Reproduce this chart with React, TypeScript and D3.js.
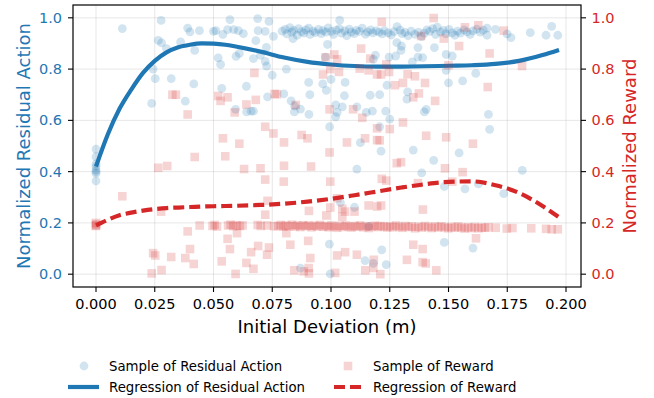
import React from 'react';
import * as d3 from 'd3';

const BLUE = '#1f77b4';
const RED = '#d62728';

const xTicks = [0, 0.025, 0.05, 0.075, 0.1, 0.125, 0.15, 0.175, 0.2];
const yTicks = [0, 0.2, 0.4, 0.6, 0.8, 1.0];

// regression curves
const fitX = [0, 0.005, 0.01, 0.015, 0.02, 0.025, 0.03, 0.035, 0.04, 0.045, 0.05, 0.055, 0.06, 0.07, 0.08, 0.09, 0.1, 0.11, 0.12, 0.13, 0.14, 0.15, 0.16, 0.17, 0.18, 0.19, 0.197];
const actionFit = [0.42, 0.545, 0.645, 0.72, 0.785, 0.832, 0.865, 0.885, 0.895, 0.9, 0.899, 0.895, 0.887, 0.868, 0.845, 0.828, 0.818, 0.812, 0.81, 0.81, 0.811, 0.813, 0.815, 0.82, 0.832, 0.855, 0.875];
const rewardFit = [0.19, 0.212, 0.23, 0.24, 0.248, 0.254, 0.258, 0.26, 0.262, 0.264, 0.265, 0.266, 0.267, 0.27, 0.275, 0.283, 0.294, 0.308, 0.323, 0.338, 0.351, 0.36, 0.362, 0.347, 0.317, 0.266, 0.222];

const actionSamples: [number, number][] = [
  [0, 0.488], [0, 0.458], [0, 0.43], [0, 0.42], [0, 0.407], [0, 0.4], [0, 0.394], [0, 0.364],
  [0.0112, 0.958], [0.0277, 0.99], [0.0265, 0.912], [0.0279, 0.902], [0.03, 0.88], [0.0243, 0.8],
  [0.0252, 0.763], [0.032, 0.763], [0.0237, 0.666],
  [0.039, 0.96], [0.04, 0.945], [0.044, 0.95], [0.057, 0.993], [0.0688, 0.997], [0.0736, 0.986],
  [0.05, 0.947], [0.051, 0.95], [0.054, 0.935], [0.056, 0.954], [0.0586, 0.954], [0.0606, 0.95],
  [0.0627, 0.938], [0.069, 0.95], [0.072, 0.947], [0.0755, 0.928], [0.036, 0.906], [0.042, 0.873],
  [0.068, 0.911], [0.0725, 0.885], [0.052, 0.844], [0.053, 0.818], [0.0596, 0.85], [0.061, 0.861],
  [0.067, 0.841], [0.07, 0.854], [0.072, 0.83], [0.0726, 0.812], [0.075, 0.776], [0.0416, 0.742],
  [0.0535, 0.725], [0.064, 0.733], [0.073, 0.692], [0.038, 0.675], [0.0594, 0.643], [0.0641, 0.633],
  [0.066, 0.636], [0.067, 0.636],
  [0.0792, 0.948], [0.0805, 0.955], [0.0812, 0.937], [0.0825, 0.962], [0.0833, 0.944], [0.0841, 0.951],
  [0.0856, 0.932], [0.0862, 0.958], [0.0875, 0.946], [0.0884, 0.94], [0.0893, 0.953], [0.0905, 0.96],
  [0.0911, 0.935], [0.0924, 0.948], [0.0933, 0.942], [0.0947, 0.955], [0.0958, 0.938], [0.0966, 0.95],
  [0.0979, 0.944], [0.0988, 0.961], [0.1002, 0.947], [0.1011, 0.935], [0.1023, 0.952], [0.1036, 0.958],
  [0.1045, 0.94], [0.1059, 0.949], [0.1067, 0.93], [0.1078, 0.956], [0.1086, 0.944], [0.1099, 0.938],
  [0.1108, 0.951], [0.1121, 0.947], [0.1133, 0.96], [0.1147, 0.936], [0.1156, 0.945], [0.1169, 0.953],
  [0.1178, 0.941], [0.1192, 0.949], [0.1037, 0.991], [0.0838, 0.919], [0.0985, 0.896],
  [0.0976, 0.847], [0.081, 0.8], [0.1189, 0.854], [0.118, 0.838], [0.0905, 0.748], [0.0965, 0.742],
  [0.1, 0.76], [0.106, 0.748], [0.098, 0.717], [0.0799, 0.703], [0.091, 0.7], [0.1057, 0.696],
  [0.1167, 0.698], [0.083, 0.676], [0.0845, 0.656], [0.0844, 0.633], [0.087, 0.644], [0.0906, 0.623],
  [0.102, 0.66], [0.1026, 0.631], [0.1048, 0.653], [0.102, 0.614], [0.111, 0.653], [0.115, 0.631],
  [0.1176, 0.636], [0.0994, 0.575], [0.1125, 0.513], [0.111, 0.41], [0.104, 0.279], [0.11, 0.261],
  [0.116, 0.186], [0.0993, 0.117], [0.1145, 0.053], [0.118, 0.042], [0.087, 0.024], [0.0997, 0.001],
  [0.1205, 0.944], [0.1218, 0.937], [0.1227, 0.95], [0.1243, 0.941], [0.1256, 0.933], [0.1268, 0.946],
  [0.1281, 0.966], [0.1294, 0.952], [0.1302, 0.938], [0.1315, 0.943], [0.1328, 0.93], [0.1341, 0.948],
  [0.1357, 0.936], [0.1372, 0.944], [0.1385, 0.927], [0.1397, 0.94], [0.1408, 0.953], [0.142, 0.947],
  [0.1433, 0.958], [0.1445, 0.935], [0.1452, 0.964], [0.1466, 0.944], [0.1478, 0.951], [0.1489, 0.937],
  [0.1502, 0.955], [0.1515, 0.941], [0.1527, 0.932], [0.1538, 0.948], [0.155, 0.94], [0.1566, 0.953],
  [0.1579, 0.945], [0.1592, 0.935], [0.1604, 0.949], [0.162, 0.956], [0.1635, 0.944], [0.1648, 0.952],
  [0.128, 0.903], [0.13, 0.89], [0.1298, 0.873], [0.137, 0.884], [0.144, 0.884], [0.149, 0.857],
  [0.1516, 0.851], [0.1247, 0.847], [0.1275, 0.851], [0.1346, 0.828], [0.137, 0.847], [0.139, 0.845],
  [0.149, 0.795], [0.1616, 0.783], [0.1238, 0.737], [0.15, 0.746], [0.156, 0.754], [0.1326, 0.711],
  [0.1323, 0.683], [0.1207, 0.7], [0.1397, 0.633], [0.1405, 0.643], [0.1233, 0.636], [0.125, 0.605],
  [0.1207, 0.575], [0.1213, 0.48], [0.135, 0.484], [0.1545, 0.473], [0.1437, 0.444], [0.1386, 0.395],
  [0.1482, 0.342], [0.157, 0.333], [0.1627, 0.352], [0.1216, 0.095], [0.1235, 0.037], [0.1482, 0.124],
  [0.1604, 0.102],
  [0.1664, 0.96], [0.1664, 0.932], [0.17, 0.955], [0.1749, 0.937], [0.1766, 0.923], [0.1848, 0.942],
  [0.1915, 0.932], [0.1939, 0.967], [0.1965, 0.932], [0.167, 0.623], [0.1675, 0.565], [0.1814, 0.405],
  [0.1735, 0.314],
];

const rewardSamples: [number, number][] = [
  [0, 0.19], [0, 0.195], [0, 0.2], [0, 0.188],
  [0.0325, 0.7], [0.0265, 0.415], [0.0303, 0.422], [0.0112, 0.304], [0.0277, 0.244], [0.0243, 0.082],
  [0.0252, 0.073], [0.032, 0.067], [0.0279, 0.016], [0.0237, 0.003],
  [0.0674, 0.785], [0.034, 0.7], [0.052, 0.695], [0.053, 0.676], [0.056, 0.69], [0.059, 0.631],
  [0.064, 0.662], [0.068, 0.68], [0.076, 0.703], [0.039, 0.623], [0.072, 0.575], [0.0755, 0.549],
  [0.054, 0.53], [0.061, 0.509], [0.042, 0.457], [0.055, 0.46], [0.063, 0.41], [0.07, 0.413],
  [0.072, 0.369], [0.073, 0.286], [0.072, 0.232],
  [0.0441, 0.19], [0.0496, 0.188], [0.0505, 0.192], [0.0515, 0.186], [0.0562, 0.19], [0.0573, 0.193],
  [0.0584, 0.187], [0.0598, 0.191], [0.0612, 0.188], [0.0624, 0.19], [0.0688, 0.192], [0.0701, 0.188],
  [0.0728, 0.19], [0.0758, 0.187],
  [0.039, 0.167], [0.06, 0.16], [0.056, 0.138], [0.057, 0.098], [0.04, 0.098], [0.038, 0.063],
  [0.0416, 0.04], [0.0535, 0.05], [0.066, 0.086], [0.069, 0.11], [0.064, 0.044], [0.067, 0.021],
  [0.0594, 0.001], [0.0736, 0.104], [0.0728, 0.076],
  [0.1014, 0.857], [0.1026, 0.838], [0.0977, 0.846], [0.0966, 0.779], [0.0997, 0.8], [0.1034, 0.789],
  [0.1128, 0.88], [0.1167, 0.841], [0.1122, 0.802], [0.116, 0.795], [0.1196, 0.779], [0.077, 0.702],
  [0.085, 0.66], [0.0994, 0.643], [0.1094, 0.643], [0.1133, 0.61], [0.1196, 0.569], [0.0875, 0.543],
  [0.09, 0.53], [0.08, 0.514], [0.1068, 0.514], [0.1145, 0.53], [0.1196, 0.523], [0.0994, 0.475],
  [0.08, 0.423], [0.0915, 0.42], [0.0799, 0.361], [0.0997, 0.361], [0.1026, 0.296], [0.1048, 0.255],
  [0.106, 0.244], [0.0997, 0.26], [0.0906, 0.247], [0.098, 0.229], [0.1048, 0.224], [0.11, 0.244],
  [0.116, 0.268], [0.1196, 0.264],
  [0.0775, 0.188], [0.0786, 0.192], [0.0797, 0.185], [0.0809, 0.19], [0.0821, 0.187], [0.0834, 0.193],
  [0.0846, 0.186], [0.0857, 0.19], [0.0869, 0.184], [0.0881, 0.191], [0.0893, 0.187], [0.0905, 0.19],
  [0.0917, 0.183], [0.0929, 0.189], [0.0941, 0.186], [0.0953, 0.192], [0.0966, 0.185], [0.0978, 0.188],
  [0.099, 0.183], [0.1002, 0.19], [0.1014, 0.186], [0.1026, 0.181], [0.1038, 0.189], [0.1051, 0.184],
  [0.1063, 0.19], [0.1075, 0.186], [0.1087, 0.182], [0.11, 0.188], [0.1112, 0.185], [0.1124, 0.19],
  [0.1137, 0.183], [0.1149, 0.187], [0.1161, 0.18], [0.1174, 0.186], [0.1186, 0.189],
  [0.081, 0.16], [0.0827, 0.115], [0.0903, 0.13], [0.1026, 0.073], [0.106, 0.086], [0.111, 0.076],
  [0.0912, 0.063], [0.1182, 0.056], [0.0844, 0.015], [0.0884, 0.011], [0.0905, 0.024], [0.0906, 0.003],
  [0.1018, 0.005], [0.1146, 0.015], [0.118, 0.024],
  [0.1437, 0.999], [0.1216, 0.984], [0.1383, 0.929], [0.148, 0.919], [0.1545, 0.89], [0.157, 0.963],
  [0.1627, 0.971], [0.1235, 0.818], [0.1247, 0.789], [0.1213, 0.779], [0.15, 0.815], [0.1326, 0.78],
  [0.1357, 0.772], [0.1272, 0.737], [0.1306, 0.746], [0.14, 0.746], [0.1374, 0.705], [0.135, 0.69],
  [0.1443, 0.676], [0.125, 0.566], [0.1306, 0.592], [0.1405, 0.54], [0.149, 0.534], [0.1604, 0.509],
  [0.1207, 0.522], [0.128, 0.433], [0.1298, 0.437], [0.1485, 0.413], [0.156, 0.398], [0.1216, 0.372],
  [0.1235, 0.365], [0.137, 0.355], [0.1516, 0.361], [0.1213, 0.268], [0.1391, 0.252],
  [0.1199, 0.184], [0.1211, 0.188], [0.1225, 0.186], [0.1238, 0.182], [0.1251, 0.187], [0.1264, 0.183],
  [0.1277, 0.19], [0.129, 0.185], [0.1303, 0.181], [0.1316, 0.188], [0.133, 0.184], [0.1344, 0.186],
  [0.1358, 0.179], [0.1372, 0.185], [0.1386, 0.182], [0.14, 0.188], [0.1414, 0.184], [0.1428, 0.18],
  [0.1442, 0.186], [0.1456, 0.182], [0.147, 0.187], [0.1484, 0.183], [0.1498, 0.179], [0.1512, 0.184],
  [0.1527, 0.181], [0.1541, 0.186], [0.1555, 0.182], [0.1568, 0.178], [0.1583, 0.183], [0.1598, 0.18],
  [0.1612, 0.184], [0.1627, 0.179], [0.1641, 0.182],
  [0.135, 0.115], [0.139, 0.098], [0.1323, 0.056], [0.139, 0.047], [0.1403, 0.042], [0.1448, 0.015],
  [0.121, 0.0], [0.1617, 0.14],
  [0.1735, 0.95], [0.1675, 0.861], [0.1813, 0.812], [0.1667, 0.73],
  [0.1655, 0.181], [0.167, 0.183], [0.1701, 0.181], [0.1748, 0.178], [0.1772, 0.18], [0.1852, 0.179],
  [0.1915, 0.177], [0.1939, 0.175], [0.1965, 0.175],
];

const W = 654;
const H = 398;
const L = 73;
const R = 581;
const T = 5;
const B = 287;
const FONT = 'DejaVu Sans, sans-serif';

export default function App() {
  const x = d3.scaleLinear().domain([-0.00979, 0.20638]).range([L, R]);
  const yL = d3.scaleLinear().domain([-0.05, 1.05]).range([B, T]);
  const yR = d3.scaleLinear().domain([-0.05, 1.05]).range([B, T]);

  const actionLine = d3
    .line<number>()
    .x((d, i) => x(fitX[i]))
    .y((d) => yL(d))
    .curve(d3.curveMonotoneX);
  const rewardLine = d3
    .line<number>()
    .x((d, i) => x(fitX[i]))
    .y((d) => yR(d))
    .curve(d3.curveMonotoneX);

  const fx = d3.format('.3f');
  const fy = d3.format('.1f');
  const sq = 8.6;

  return (
    <svg
      width={W}
      height={H}
      style={{ position: 'absolute', left: 0, top: 0, background: '#fff' }}
      fontFamily={FONT}
    >
      <rect x={0} y={0} width={W} height={H} fill="#fff" />
      {/* grid */}
      <g stroke="#b0b0b0" strokeOpacity={0.3} strokeWidth={1}>
        {xTicks.map((t) => (
          <line key={`gx${t}`} x1={x(t)} x2={x(t)} y1={T} y2={B} />
        ))}
        {yTicks.map((t) => (
          <line key={`gy${t}`} x1={L} x2={R} y1={yL(t)} y2={yL(t)} />
        ))}
      </g>

      {/* residual action */}
      <g fill={BLUE} fillOpacity={0.2}>
        {actionSamples.map((d, i) => (
          <circle key={i} cx={x(d[0])} cy={yL(d[1])} r={4.4} />
        ))}
      </g>
      <path d={actionLine(actionFit) as string} fill="none" stroke={BLUE} strokeWidth={4.2} />

      {/* reward */}
      <g fill={RED} fillOpacity={0.2}>
        {rewardSamples.map((d, i) => (
          <rect key={i} x={x(d[0]) - sq / 2} y={yR(d[1]) - sq / 2} width={sq} height={sq} />
        ))}
      </g>
      <path
        d={rewardLine(rewardFit) as string}
        fill="none"
        stroke={RED}
        strokeWidth={4.2}
        strokeDasharray="11 5"
      />

      {/* spines */}
      <rect x={L} y={T} width={R - L} height={B - T} fill="none" stroke="#000" strokeWidth={1.2} />

      {/* x axis */}
      {xTicks.map((t) => (
        <g key={`xt${t}`}>
          <line x1={x(t)} x2={x(t)} y1={B} y2={B + 5} stroke="#000" strokeWidth={1.1} />
          <text x={x(t)} y={304} textAnchor="middle" dominantBaseline="central" fontSize={14.5} fill="#000">
            {fx(t)}
          </text>
        </g>
      ))}
      <text x={(L + R) / 2} y={326} textAnchor="middle" dominantBaseline="central" fontSize={18} fill="#000">
        Initial Deviation (m)
      </text>

      {/* left y axis */}
      {yTicks.map((t) => (
        <g key={`yl${t}`}>
          <line x1={L - 5} x2={L} y1={yL(t)} y2={yL(t)} stroke="#000" strokeWidth={1.1} />
          <text x={62} y={yL(t)} textAnchor="end" dominantBaseline="central" fontSize={14.5} fill={BLUE}>
            {fy(t)}
          </text>
        </g>
      ))}
      <text
        transform={`translate(23,${(T + B) / 2}) rotate(-90)`}
        textAnchor="middle"
        dominantBaseline="central"
        fontSize={18}
        fill={BLUE}
      >
        Normalized Residual Action
      </text>

      {/* right y axis */}
      {yTicks.map((t) => (
        <g key={`yr${t}`}>
          <line x1={R} x2={R + 5} y1={yR(t)} y2={yR(t)} stroke="#000" strokeWidth={1.1} />
          <text x={591.5} y={yR(t)} textAnchor="start" dominantBaseline="central" fontSize={14.5} fill={RED}>
            {fy(t)}
          </text>
        </g>
      ))}
      <text
        transform={`translate(629,${(T + B) / 2}) rotate(-90)`}
        textAnchor="middle"
        dominantBaseline="central"
        fontSize={18}
        fill={RED}
      >
        Normalized Reward
      </text>

      {/* legend */}
      <g fontSize={13.3} fill="#000">
        <circle cx={84} cy={366} r={4.4} fill={BLUE} fillOpacity={0.2} />
        <text x={109} y={366} dominantBaseline="central">Sample of Residual Action</text>
        <line x1={68} x2={99} y1={387} y2={387} stroke={BLUE} strokeWidth={4.2} />
        <text x={109} y={387} dominantBaseline="central">Regression of Residual Action</text>
        <rect x={348 - sq / 2} y={366 - sq / 2} width={sq} height={sq} fill={RED} fillOpacity={0.2} />
        <text x={373} y={366} dominantBaseline="central">Sample of Reward</text>
        <line x1={334} x2={362} y1={387} y2={387} stroke={RED} strokeWidth={4.2} strokeDasharray="11 5" />
        <text x={373} y={387} dominantBaseline="central">Regression of Reward</text>
      </g>
    </svg>
  );
}
